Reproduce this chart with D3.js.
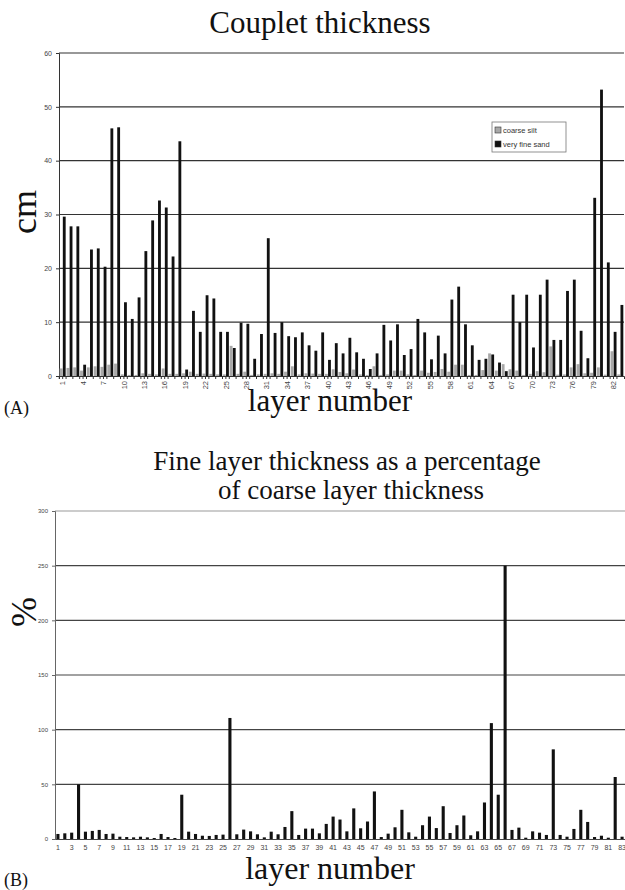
<!DOCTYPE html>
<html>
<head>
<meta charset="utf-8">
<script src="https://cdn.jsdelivr.net/npm/d3@7"></script>
<style>
  body { margin: 0; background: #fff; }
  svg { display: block; }
  .serif { font-family: "Liberation Serif", "Times New Roman", serif; fill: #111; }
  .tick text { font-family: "Liberation Sans", Arial, sans-serif; fill: #444; }
</style>
</head>
<body>
<div id="chart"></div>
<script>
// layer numbers 1..83
const layers = d3.range(1, 84);

// couplet thickness (cm)
const coarseSilt = [1.4, 1.5, 1.6, 1.0, 1.6, 1.8, 1.7, 2.1, 2.3, 0.3,
  0.2, 0.2, 0.5, 0.4, 0.3, 1.4, 0.4, 0.4, 0.5, 0.8,
  0.4, 0.45, 0.4, 0.3, 0.3, 5.6, 0.4, 0.8, 0.2, 0.3,
  0.4, 0.5, 0.4, 0.8, 1.8, 0.3, 0.5, 0.45, 0.4, 0.4,
  1.25, 0.75, 0.5, 1.2, 0.3, 0.2, 1.8, 0.2, 0.3, 1.0,
  1.0, 0.3, 0.2, 1.0, 0.6, 0.75, 1.3, 0.8, 2.1, 2.1,
  0.2, 0.2, 1.1, 4.2, 1.0, 2.2, 1.25, 1.0, 0.2, 0.4,
  0.9, 0.7, 5.5, 0.25, 0.3, 1.6, 2.2, 0.5, 0.6, 1.6,
  0.25, 4.6, 0.3];
const veryFineSand = [29.6, 27.8, 27.8, 2.1, 23.5, 23.7, 20.3, 46.0, 46.2, 13.7,
  10.6, 14.6, 23.2, 28.9, 32.6, 31.3, 22.2, 43.6, 1.2, 12.1,
  8.2, 15.0, 14.4, 8.2, 8.2, 5.2, 9.9, 9.7, 3.2, 7.8,
  25.6, 8.0, 10.0, 7.4, 7.2, 8.1, 5.7, 4.7, 8.1, 3.0,
  6.1, 4.2, 7.1, 4.4, 3.2, 1.3, 4.2, 9.5, 6.6, 9.6,
  3.9, 5.0, 10.6, 8.1, 3.1, 7.5, 4.2, 14.2, 16.6, 9.6,
  5.7, 3.0, 3.2, 4.0, 2.5, 0.9, 15.1, 10.0, 15.1, 5.3,
  15.1, 17.9, 6.7, 6.7, 15.8, 17.9, 8.4, 3.3, 33.1, 53.2,
  21.1, 8.2, 13.2];

// fine layer thickness as % of coarse layer thickness
const finePercent = [4.6, 5.2, 5.8, 50, 6.7, 7.4, 8.3, 4.6, 4.9, 2.1,
  1.8, 1.5, 2.1, 1.5, 0.9, 4.6, 1.8, 0.9, 40.5, 6.7,
  4.6, 3.0, 2.8, 3.7, 4.0, 110.7, 4.3, 8.6, 7.0, 4.3,
  1.5, 6.7, 4.3, 11.0, 25.5, 3.7, 9.5, 9.5, 5.2, 13.8,
  20.5, 17.8, 7.0, 28.0, 9.8, 16.0, 43.5, 1.8, 4.9, 10.7,
  26.7, 6.1, 2.1, 12.6, 20.5, 10.0, 30.0, 5.5, 12.6, 21.5,
  3.4, 7.0, 33.4, 106.0, 40.5, 250, 8.3, 10.4, 1.2, 7.0,
  5.8, 3.7, 82.0, 3.7, 2.1, 9.2, 26.7, 15.6, 1.8, 3.0,
  1.2, 56.7, 2.1];

const seriesNames = ["coarse silt", "very fine sand"];
const seriesColors = ["#a8a8a8", "#111"];

const width = 625, height = 890;

const svg = d3.select("#chart").append("svg")
  .attr("width", width)
  .attr("height", height);

// ---------- (A) couplet thickness ----------
const topPlot = { left: 59, right: 624, top: 53, bottom: 376 };

const xA = d3.scaleBand()
  .domain(layers)
  .range([topPlot.left, topPlot.right])
  .paddingInner(0.12)
  .paddingOuter(0.1);

const xSub = d3.scaleBand()
  .domain(seriesNames)
  .range([0, xA.bandwidth()])
  .paddingInner(0.1);

const yA = d3.scaleLinear()
  .domain([0, 60])
  .range([topPlot.bottom, topPlot.top]);

svg.append("text")
  .attr("class", "serif")
  .attr("x", 320).attr("y", 33)
  .attr("text-anchor", "middle")
  .style("font-size", "31px")
  .text("Couplet thickness");

// gridlines
svg.append("g")
  .selectAll("line")
  .data(yA.ticks(6).filter(d => d > 0))
  .join("line")
  .attr("x1", topPlot.left).attr("x2", topPlot.right)
  .attr("y1", d => yA(d)).attr("y2", d => yA(d))
  .attr("stroke", "#333").attr("stroke-width", 1.1);

// y axis
const gyA = svg.append("g")
  .attr("transform", `translate(${topPlot.left},0)`)
  .call(d3.axisLeft(yA).ticks(6).tickSize(3).tickPadding(4));
gyA.select(".domain").attr("stroke", "#333");
gyA.selectAll(".tick line").attr("stroke", "#333");
gyA.selectAll(".tick text").style("font-size", "7px");

// bars
const tableA = layers.map((l, i) => ({ layer: l, values: [coarseSilt[i], veryFineSand[i]] }));

svg.append("g")
  .selectAll("g")
  .data(tableA)
  .join("g")
  .attr("transform", d => `translate(${xA(d.layer)},0)`)
  .selectAll("rect")
  .data(d => d.values.map((v, j) => ({ key: seriesNames[j], value: v, j: j })))
  .join("rect")
  .attr("x", d => xSub(d.key))
  .attr("width", xSub.bandwidth())
  .attr("y", d => yA(d.value))
  .attr("height", d => yA(0) - yA(d.value))
  .attr("fill", d => seriesColors[d.j]);

// x axis
const gxA = svg.append("g")
  .attr("transform", `translate(0,${topPlot.bottom})`)
  .call(d3.axisBottom(xA).tickValues(layers.filter(d => (d - 1) % 3 === 0)).tickSize(3));
gxA.select(".domain").attr("stroke", "#333");
gxA.selectAll(".tick line").attr("stroke", "#333");
gxA.selectAll(".tick text")
  .style("font-size", "7.5px")
  .attr("transform", "rotate(-90)")
  .attr("text-anchor", "end")
  .attr("x", -5).attr("y", 0).attr("dy", "0.35em");

// small tick marks for every category
svg.append("g")
  .selectAll("line")
  .data(layers)
  .join("line")
  .attr("x1", d => xA(d) - xA.step() * xA.paddingInner() / 2)
  .attr("x2", d => xA(d) - xA.step() * xA.paddingInner() / 2)
  .attr("y1", topPlot.bottom).attr("y2", topPlot.bottom + 3)
  .attr("stroke", "#333");

svg.append("text")
  .attr("class", "serif")
  .attr("transform", "translate(36,212) rotate(-90)")
  .attr("text-anchor", "middle")
  .style("font-size", "36px")
  .text("cm");

svg.append("text")
  .attr("class", "serif")
  .attr("x", 330).attr("y", 411)
  .attr("text-anchor", "middle")
  .style("font-size", "31px")
  .text("layer number");

svg.append("text")
  .attr("class", "serif")
  .attr("x", 4).attr("y", 414)
  .style("font-size", "18px")
  .text("(A)");

// legend
const legend = svg.append("g").attr("transform", "translate(492,122)");
legend.append("rect")
  .attr("width", 74).attr("height", 30)
  .attr("fill", "#fff").attr("stroke", "#777").attr("stroke-width", 0.8);
seriesNames.forEach((name, i) => {
  legend.append("rect")
    .attr("x", 3).attr("y", 5 + i * 14)
    .attr("width", 6).attr("height", 6)
    .attr("fill", seriesColors[i]).attr("stroke", "#333").attr("stroke-width", 0.6);
  legend.append("text")
    .attr("x", 11).attr("y", 11 + i * 14)
    .style("font-family", "Liberation Sans, Arial, sans-serif")
    .style("font-size", "7.5px")
    .attr("fill", "#333")
    .text(name);
});

// ---------- (B) fine layer % ----------
const botPlot = { left: 55, right: 625, top: 511, bottom: 839 };

const xB = d3.scaleBand()
  .domain(layers)
  .range([botPlot.left, botPlot.right])
  .paddingInner(0.55)
  .paddingOuter(0.2);

const yB = d3.scaleLinear()
  .domain([0, 300])
  .range([botPlot.bottom, botPlot.top]);

svg.append("text")
  .attr("class", "serif")
  .attr("x", 347).attr("y", 470)
  .attr("text-anchor", "middle")
  .style("font-size", "27px")
  .text("Fine layer thickness as a percentage");
svg.append("text")
  .attr("class", "serif")
  .attr("x", 351).attr("y", 499)
  .attr("text-anchor", "middle")
  .style("font-size", "27px")
  .text("of coarse layer thickness");

svg.append("g")
  .selectAll("line")
  .data(yB.ticks(6).filter(d => d > 0))
  .join("line")
  .attr("x1", botPlot.left).attr("x2", botPlot.right)
  .attr("y1", d => yB(d)).attr("y2", d => yB(d))
  .attr("stroke", d => d === 300 ? "#999" : "#444").attr("stroke-width", 1.1);

const gyB = svg.append("g")
  .attr("transform", `translate(${botPlot.left},0)`)
  .call(d3.axisLeft(yB).ticks(6).tickSize(3).tickPadding(4));
gyB.select(".domain").attr("stroke", "#666");
gyB.selectAll(".tick line").attr("stroke", "#666");
gyB.selectAll(".tick text").style("font-size", "6px").attr("fill", "#777");

svg.append("g")
  .selectAll("rect")
  .data(layers.map((l, i) => ({ layer: l, value: finePercent[i] })))
  .join("rect")
  .attr("x", d => xB(d.layer))
  .attr("width", xB.bandwidth())
  .attr("y", d => yB(d.value))
  .attr("height", d => yB(0) - yB(d.value))
  .attr("fill", "#111");

const gxB = svg.append("g")
  .attr("transform", `translate(0,${botPlot.bottom})`)
  .call(d3.axisBottom(xB).tickValues(layers.filter(d => d % 2 === 1)).tickSize(0).tickPadding(6));
gxB.select(".domain").attr("stroke", "#444");
gxB.selectAll(".tick text").style("font-size", "7px").attr("fill", "#666");

svg.append("text")
  .attr("class", "serif")
  .attr("transform", "translate(36,612) rotate(-90)")
  .attr("text-anchor", "middle")
  .style("font-size", "36px")
  .text("%");

svg.append("text")
  .attr("class", "serif")
  .attr("x", 330).attr("y", 879)
  .attr("text-anchor", "middle")
  .style("font-size", "32px")
  .text("layer number");

svg.append("text")
  .attr("class", "serif")
  .attr("x", 4).attr("y", 886)
  .style("font-size", "18px")
  .text("(B)");
</script>
</body>
</html>
